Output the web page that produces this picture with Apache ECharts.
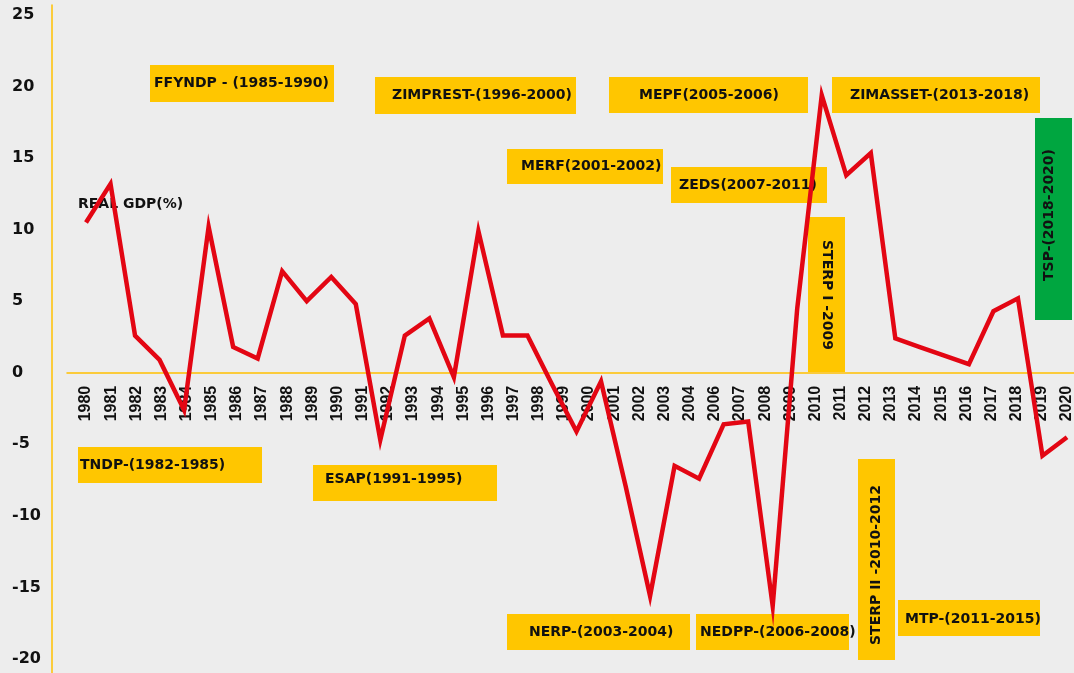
<!DOCTYPE html>
<html>
<head>
<meta charset="utf-8">
<script src="https://cdn.jsdelivr.net/npm/echarts@6/dist/echarts.min.js"></script>
<style>
html,body{margin:0;padding:0;background:#ededed;}
#chart{width:1074px;height:673px;}
</style>
</head>
<body>
<div id="chart"></div>
<script>
// Tick labels shown under the zero line (note: the original skips 2005)
const tickLabels = ['1980','1981','1982','1983','1984','1985','1986','1987','1988','1989',
  '1990','1991','1992','1993','1994','1995','1996','1997','1998','1999',
  '2000','2001','2002','2003','2004','2006','2007','2008','2009','2010',
  '2011','2012','2013','2014','2015','2016','2017','2018','2019','2020'];
// Years of the plotted series
const years = ['1980','1981','1982','1983','1984','1985','1986','1987','1988','1989',
  '1990','1991','1992','1993','1994','1995','1996','1997','1998','1999',
  '2000','2001','2002','2003','2004','2005','2006','2007','2008','2009',
  '2010','2011','2012','2013','2014','2015','2016','2017','2018','2019','2020'];
// Real GDP growth (%)
const realGdp = [10.5, 13.2, 2.6, 0.9, -2.6, 10.2, 1.8, 1.0, 7.1, 5.0,
  6.7, 4.8, -4.7, 2.6, 3.8, -0.3, 9.9, 2.6, 2.6, -0.8,
  -4.1, -0.6, -7.9, -15.6, -6.5, -7.4, -3.6, -3.4, -16.3, 4.5,
  19.4, 13.8, 15.35, 2.4, 1.8, 1.2, 0.6, 4.3, 5.2, -5.8, -4.5];
const seriesName = 'REAL GDP(%)';
// Policy programme annotations
const policyNames = ['FFYNDP - (1985-1990)','ZIMPREST-(1996-2000)','MEPF(2005-2006)','ZIMASSET-(2013-2018)',
  'MERF(2001-2002)','ZEDS(2007-2011)','STERP I -2009','TSP-(2018-2020)',
  'TNDP-(1982-1985)','ESAP(1991-1995)','NERP-(2003-2004)','NEDPP-(2006-2008)',
  'STERP II -2010-2012','MTP-(2011-2015)'];

const YEL = '#FFC600', GRN = '#00A640';
const FONT = '"DejaVu Sans", sans-serif';
// layout of the annotation boxes: [x0, y0, x1, y1, textX, textY, textAnchor, rotation, fill]
const boxLayout = [
  [150, 65, 334, 102, 154, 83, 'left', 0, YEL],
  [375, 77, 576, 114, 392, 95, 'left', 0, YEL],
  [609, 77, 808, 113, 709, 95, 'center', 0, YEL],
  [832, 77, 1040, 113, 850, 95, 'left', 0, YEL],
  [507, 149, 663, 184, 521, 166, 'left', 0, YEL],
  [671, 167, 827, 203, 679, 185, 'left', 0, YEL],
  [808, 217, 845, 372, 827, 295, 'center', -Math.PI/2, YEL],
  [1035, 118, 1072, 320, 1049, 215, 'center', Math.PI/2, GRN],
  [78, 447, 262, 483, 80, 465, 'left', 0, YEL],
  [313, 465, 497, 501, 325, 479, 'left', 0, YEL],
  [507, 614, 690, 650, 529, 632, 'left', 0, YEL],
  [696, 614, 849, 650, 700, 632, 'left', 0, YEL],
  [858, 459, 895, 660, 876.5, 565, 'center', Math.PI/2, YEL],
  [898, 600, 1040, 636, 905, 619, 'left', 0, YEL]
];

const graphics = [];
policyNames.forEach(function (name, i) {
  const b = boxLayout[i];
  graphics.push({type:'rect', z:0, silent:true,
    shape:{x:b[0], y:b[1], width:b[2]-b[0], height:b[3]-b[1]},
    style:{fill:b[8]}});
  graphics.push({type:'text', z:1, silent:true, x:b[4], y:b[5], rotation:b[7],
    style:{text:name, fill:'#111', font:'bold 14px ' + FONT,
      textAlign:b[6], textVerticalAlign:'middle'}});
});
graphics.push({type:'text', z:1, silent:true, x:78, y:204,
  style:{text:seriesName, fill:'#111', font:'bold 14px ' + FONT, textAlign:'left', textVerticalAlign:'middle'}});

// zero line position within the plot: top 15, height 644, range -20..25
const TOP = 15, BOTTOM = 14, H = 673 - TOP - BOTTOM;
const zeroFromBottom = 673 - (TOP + H * 25 / 45);

const chart = echarts.init(document.getElementById('chart'), null, {renderer:'canvas'});
chart.setOption({
  backgroundColor:'#ededed',
  animation:false,
  grid:[
    {left:67, right:0, top:TOP, bottom:BOTTOM, outerBoundsMode:'none'},
    {left:86, right:7, top:TOP, bottom:BOTTOM, outerBoundsMode:'none'},
    {left:86, right:7, top:TOP, bottom:zeroFromBottom, outerBoundsMode:'none'},
    {left:52, right:0, top:5, bottom:0, outerBoundsMode:'none'}
  ],
  xAxis:[
    {gridIndex:0, type:'value', min:0, max:1,
      axisLine:{show:true, onZero:true, lineStyle:{color:'#FFC000', width:1.5}},
      axisTick:{show:false}, axisLabel:{show:false}, splitLine:{show:false}},
    {gridIndex:1, type:'category', data:years, boundaryGap:false, show:false},
    {gridIndex:2, type:'category', data:tickLabels, boundaryGap:false, position:'bottom',
      axisLine:{show:false, onZero:false},
      axisTick:{show:false}, splitLine:{show:false},
      axisLabel:{rotate:90, interval:0, margin:13, fontFamily:'"Liberation Sans", Arial, sans-serif',
        fontWeight:'bold', fontSize:16, color:'#111'}},
    {gridIndex:3, type:'value', min:0, max:1, show:false}
  ],
  yAxis:[
    {gridIndex:0, type:'value', min:-20, max:25, interval:5, offset:15,
      axisLine:{show:false, onZero:false},
      axisTick:{show:false}, splitLine:{show:false},
      axisLabel:{align:'left', margin:40, fontFamily:FONT, fontWeight:'bold', fontSize:16, color:'#111'}},
    {gridIndex:1, type:'value', min:-20, max:25, interval:5, show:false},
    {gridIndex:2, type:'value', min:0, max:1, show:false},
    {gridIndex:3, type:'value', min:0, max:1, position:'left',
      axisLine:{show:true, onZero:false, lineStyle:{color:'#FFC000', width:1.5}},
      axisTick:{show:false}, axisLabel:{show:false}, splitLine:{show:false}}
  ],
  series:[{
    name:seriesName, type:'line', xAxisIndex:1, yAxisIndex:1, data:realGdp,
    showSymbol:false, symbol:'none', z:10,
    lineStyle:{color:'#E30613', width:4.5, join:'miter', miterLimit:20}
  }],
  graphic:graphics
});
</script>
</body>
</html>
